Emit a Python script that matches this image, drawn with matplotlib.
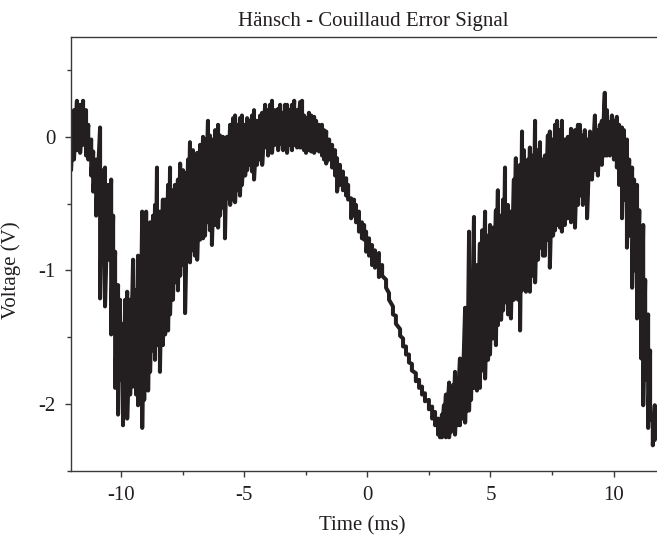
import numpy as np
import matplotlib
matplotlib.use("Agg")
import matplotlib.pyplot as plt
from matplotlib.ticker import AutoMinorLocator

# trace: time (ms) with the upper / lower
# extent of the noisy signal (V) at each sample
t_ms = [-12.03, -11.91, -11.79, -11.66, -11.54, -11.42, -11.33, -11.21, -11.13, -11.01,
        -10.85, -10.73, -10.65, -10.52, -10.40, -10.32, -10.24, -10.12, -10.04, -9.92,
        -9.83, -9.75, -9.63, -9.51, -9.39, -9.31, -9.23, -9.14, -9.06, -8.98,
        -8.90, -8.82, -8.70, -8.62, -8.54, -8.42, -8.30, -8.21, -8.09, -8.01,
        -7.89, -7.81, -7.69, -7.60, -7.48, -7.40, -7.28, -7.20, -7.08, -7.00,
        -6.91, -6.79, -6.67, -6.59, -6.47, -6.39, -6.31, -6.18, -6.06, -5.98,
        -5.86, -5.78, -5.70, -5.57, -5.45, -5.37, -5.25, -5.17, -5.09, -4.96,
        -4.88, -4.80, -4.68, -4.60, -4.48, -4.35, -4.27, -4.15, -4.03, -3.95,
        -3.87, -3.75, -3.62, -3.54, -3.42, -3.34, -3.26, -3.14, -3.06, -2.97,
        -2.85, -2.73, -2.65, -2.57, -2.49, -2.37, -2.28, -2.16, -2.08, -1.96,
        -1.84, -1.76, -1.67, -1.55, -1.43, -1.31, -1.23, -1.11, -0.99, -0.86,
        -0.78, -0.66, -0.54, -0.46, -0.34, -0.22, -0.13, -0.05, 0.07, 0.19,
        0.31, 0.47, 0.60, 0.76, 0.88, 1.04, 1.16, 1.33, 1.45, 1.57,
        1.69, 1.81, 1.97, 2.10, 2.22, 2.34, 2.50, 2.63, 2.75, 2.87,
        2.95, 3.03, 3.11, 3.19, 3.32, 3.40, 3.48, 3.56, 3.64, 3.76,
        3.84, 3.97, 4.05, 4.13, 4.21, 4.33, 4.45, 4.57, 4.66, 4.78,
        4.90, 4.98, 5.10, 5.22, 5.30, 5.43, 5.51, 5.59, 5.71, 5.83,
        5.95, 6.03, 6.12, 6.20, 6.28, 6.36, 6.44, 6.52, 6.60, 6.72,
        6.81, 6.93, 7.01, 7.13, 7.21, 7.33, 7.41, 7.54, 7.62, 7.70,
        7.82, 7.90, 8.02, 8.14, 8.27, 8.35, 8.43, 8.55, 8.63, 8.75,
        8.83, 8.92, 9.04, 9.12, 9.24, 9.36, 9.44, 9.52, 9.64, 9.73,
        9.85, 9.93, 10.01, 10.13, 10.22, 10.34, 10.42, 10.54, 10.63, 10.75,
        10.83, 10.95, 11.04, 11.12, 11.20, 11.28, 11.40, 11.48, 11.59, 11.67, 11.76]

v_hi = [0.09, 0.20, 0.27, 0.24, 0.27, 0.20, 0.09, -0.02, -0.11, -0.17,
        0.07, -0.25, -0.23, -0.36, -0.32, -0.59, -0.86, -1.11, -1.22, -1.40,
        -1.22, -1.16, -1.22, -0.92, -1.15, -0.89, -1.22, -0.56, -0.70, -0.56,
        -0.66, -0.64, -0.59, -0.51, -0.23, -0.56, -0.47, -0.47, -0.36, -0.23,
        -0.40, -0.36, -0.32, -0.20, -0.25, -0.27, -0.17, -0.04, -0.10, -0.14,
        -0.12, -0.06, 0.00, -0.02, 0.12, 0.01, -0.02, 0.05, 0.09, 0.01,
        0.00, -0.02, 0.00, 0.09, 0.14, 0.16, 0.09, 0.14, 0.16, 0.09,
        0.14, 0.12, 0.16, 0.20, 0.12, 0.16, 0.18, 0.24, 0.20, 0.24,
        0.27, 0.20, 0.21, 0.24, 0.18, 0.24, 0.24, 0.20, 0.24, 0.27,
        0.20, 0.26, 0.27, 0.16, 0.14, 0.18, 0.16, 0.15, 0.12, 0.09,
        0.09, 0.05, 0.04, -0.02, -0.06, -0.10, -0.16, -0.21, -0.26, -0.31,
        -0.36, -0.46, -0.47, -0.51, -0.56, -0.64, -0.66, -0.71, -0.76, -0.81,
        -0.85, -0.87, -0.96, -1.07, -1.17, -1.27, -1.34, -1.44, -1.51, -1.57,
        -1.63, -1.70, -1.77, -1.82, -1.87, -1.92, -1.97, -2.02, -2.06, -2.11,
        -2.12, -2.08, -2.01, -1.93, -1.84, -1.93, -1.86, -1.76, -1.82, -1.66,
        -1.78, -1.28, -1.45, -0.71, -1.15, -0.60, -0.96, -0.80, -0.70, -0.56,
        -0.74, -0.66, -0.68, -0.55, -0.40, -0.59, -0.47, -0.23, -0.51, -0.56,
        -0.32, -0.16, -0.29, -0.21, 0.04, -0.10, -0.38, -0.17, -0.08, -0.14,
        0.12, -0.10, -0.04, -0.17, -0.14, 0.01, 0.04, -0.02, 0.09, 0.12,
        0.05, 0.12, -0.02, 0.00, 0.06, -0.02, 0.05, 0.09, 0.09, 0.01,
        0.05, -0.02, 0.04, -0.02, 0.16, 0.05, 0.09, 0.12, 0.33, 0.20,
        0.11, 0.16, 0.12, 0.15, 0.09, 0.07, 0.05, -0.02, -0.17, -0.23,
        -0.32, -0.36, -0.55, -0.77, -0.66, -1.07, -1.33, -1.60, -2.11, -2.01, -2.06]

v_lo = [-0.25, -0.17, -0.10, -0.12, -0.06, -0.14, -0.17, -0.29, -0.41, -0.59,
        -1.21, -0.77, -1.27, -0.92, -1.48, -1.45, -1.88, -2.08, -1.82, -2.16,
        -2.01, -2.11, -1.93, -1.87, -1.93, -2.01, -1.90, -2.18, -1.97, -1.82,
        -1.90, -1.76, -1.60, -1.67, -1.56, -1.76, -1.56, -1.48, -1.45, -1.33,
        -1.22, -1.09, -1.15, -1.04, -0.96, -1.32, -0.92, -0.94, -0.85, -0.89,
        -0.92, -0.77, -0.76, -0.74, -0.64, -0.70, -0.81, -0.66, -0.68, -0.59,
        -0.53, -0.76, -0.46, -0.51, -0.47, -0.49, -0.40, -0.44, -0.36, -0.29,
        -0.25, -0.21, -0.26, -0.32, -0.21, -0.17, -0.21, -0.08, -0.14, -0.10,
        -0.12, -0.06, -0.10, -0.05, -0.10, -0.08, -0.12, -0.06, -0.10, -0.06,
        -0.08, -0.08, -0.08, -0.10, -0.12, -0.10, -0.11, -0.12, -0.10, -0.11,
        -0.14, -0.17, -0.20, -0.17, -0.23, -0.29, -0.41, -0.36, -0.40, -0.44,
        -0.47, -0.61, -0.59, -0.64, -0.71, -0.76, -0.77, -0.86, -0.89, -0.96,
        -0.98, -1.05, -1.04, -1.13, -1.22, -1.33, -1.40, -1.49, -1.57, -1.63,
        -1.69, -1.75, -1.83, -1.88, -1.93, -1.98, -2.04, -2.11, -2.16, -2.23,
        -2.25, -2.25, -2.23, -2.25, -2.25, -2.21, -2.18, -2.23, -2.16, -2.16,
        -2.11, -2.14, -2.05, -2.05, -1.97, -1.88, -1.90, -1.88, -1.75, -1.81,
        -1.67, -1.63, -1.51, -1.56, -1.41, -1.37, -1.30, -1.24, -1.33, -1.36,
        -1.22, -1.11, -1.22, -1.45, -1.15, -1.07, -1.16, -1.00, -1.16, -1.04,
        -1.09, -0.92, -0.83, -0.89, -0.89, -0.77, -0.98, -0.74, -0.70, -0.66,
        -0.68, -0.71, -0.66, -0.61, -0.64, -0.59, -0.68, -0.51, -0.44, -0.51,
        -0.47, -0.61, -0.29, -0.32, -0.25, -0.29, -0.17, -0.21, -0.14, -0.14,
        -0.14, -0.10, -0.17, -0.23, -0.36, -0.61, -0.47, -0.83, -0.74, -1.13,
        -1.00, -1.36, -1.22, -1.66, -2.01, -1.82, -2.18, -2.12, -2.31, -2.27, -2.25]

x_ticks = [-10, -5, 0, 5, 10]
y_ticks = [-2, -1, 0]

ink = "#231f20"
plt.rcParams["font.family"] = ["Liberation Serif", "DejaVu Serif"]
plt.rcParams["axes.unicode_minus"] = False

fig = plt.figure(figsize=(6.57, 5.37), dpi=100)
ax = fig.add_axes([0.1081, 0.1235, 0.8919, 0.8082])

# scope trace: swing from top to bottom of the noise band at every sample
tt = np.repeat(t_ms, 2)
vv = np.column_stack([v_hi, v_lo]).ravel()
ax.plot(tt, vv, color=ink, lw=2.9, solid_joinstyle="round", solid_capstyle="round")

ax.set_xlim(-12.03, 11.76)
ax.set_ylim(-2.5, 0.75)
ax.set_xticks(x_ticks)
ax.set_yticks(y_ticks)
ax.xaxis.set_minor_locator(AutoMinorLocator(2))
ax.yaxis.set_minor_locator(AutoMinorLocator(2))

ax.spines["right"].set_visible(False)
for s in ("left", "top", "bottom"):
    ax.spines[s].set_color("#3a3a3a")
    ax.spines[s].set_linewidth(1.0)

ax.tick_params(which="major", direction="out", length=4, width=1, color="#3a3a3a",
               labelsize=15, labelcolor=ink, pad=7)
ax.tick_params(which="minor", direction="out", length=2.8, width=1, color="#3a3a3a")

ax.set_xlabel("Time (ms)", fontsize=15, color=ink)
ax.set_ylabel("Voltage (V)", fontsize=15, color=ink)
ax.xaxis.set_label_coords(0.497, -0.105)
ax.yaxis.set_label_coords(-0.085, 0.462)

fig.text(0.568, 0.9525, "Hänsch - Couillaud Error Signal", fontsize=15, color=ink,
         ha="center", va="baseline")

fig.savefig("out.png", dpi=100)
